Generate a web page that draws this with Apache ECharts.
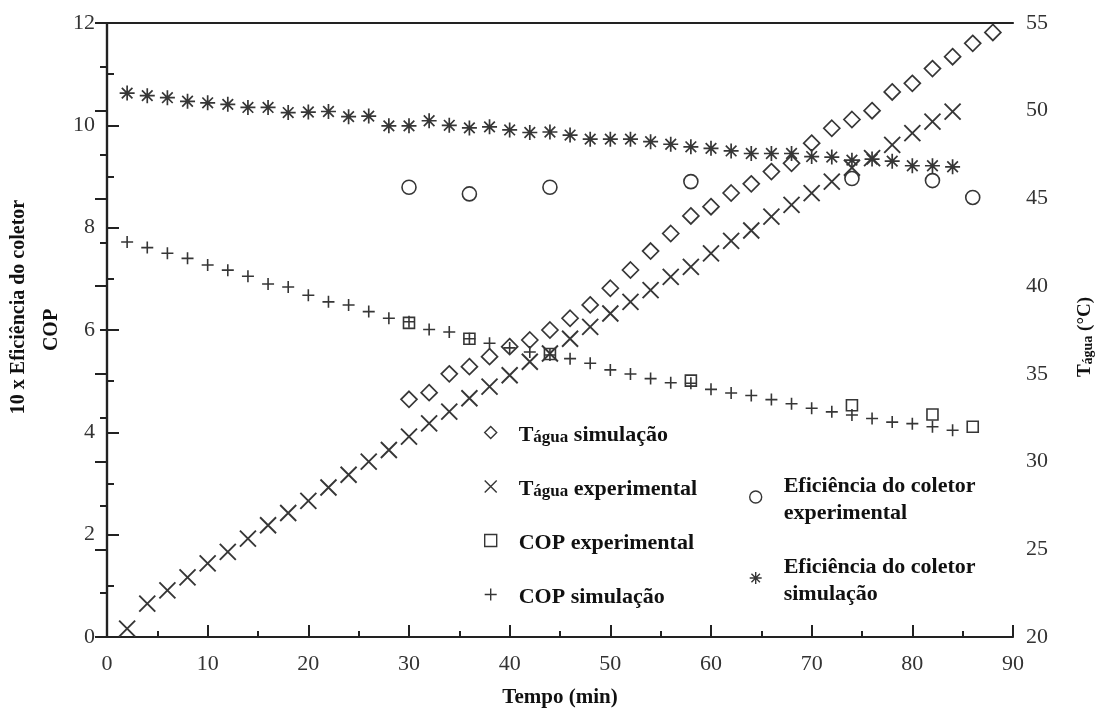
<!DOCTYPE html>
<html>
<head>
<meta charset="utf-8">
<script src="https://cdn.jsdelivr.net/npm/echarts@6/dist/echarts.min.js"></script>
<style>html,body{margin:0;padding:0;background:#fff;}#c{width:1101px;height:708px;}</style>
</head>
<body>
<div id="c"></div>
<script>
// ---- data ----
var timeFull = [2,4,6,8,10,12,14,16,18,20,22,24,26,28,30,32,34,36,38,40,42,44,46,48,50,52,54,56,58,60,62,64,66,68,70,72,74,76,78,80,82,84];
var timeSim = [30,32,34,36,38,40,42,44,46,48,50,52,54,56,58,60,62,64,66,68,70,72,74,76,78,80,82,84,86,88];
var timeExp = [30,36,44,58,74,82,86];

var tAguaSim = [33.55,33.93,35.0,35.41,35.98,36.55,36.93,37.5,38.17,38.93,39.88,40.92,42.0,43.0,44.0,44.53,45.31,45.83,46.53,47.0,48.15,49.0,49.5,50.0,51.07,51.56,52.4,53.08,53.84,54.46];
var tAguaExp = [20.48,21.9,22.66,23.4,24.2,24.85,25.61,26.37,27.07,27.76,28.52,29.25,30.0,30.66,31.42,32.18,32.85,33.61,34.27,34.92,35.69,36.16,37.0,37.68,38.44,39.1,39.77,40.53,41.1,41.87,42.58,43.17,43.96,44.63,45.3,45.96,46.75,47.3,48.05,48.72,49.38,49.95];
var copExp = [6.14,5.83,5.53,5.01,4.53,4.35,4.11];
var copSim = [7.72,7.61,7.50,7.40,7.27,7.17,7.05,6.90,6.84,6.68,6.55,6.49,6.36,6.23,6.16,6.01,5.96,5.83,5.74,5.65,5.57,5.51,5.44,5.35,5.22,5.14,5.05,4.97,4.96,4.84,4.77,4.72,4.64,4.56,4.47,4.40,4.34,4.27,4.20,4.17,4.11,4.04];
var effExp = [8.79,8.66,8.79,8.90,8.96,8.92,8.59];
var effSim = [10.63,10.58,10.54,10.47,10.44,10.41,10.35,10.35,10.25,10.26,10.27,10.17,10.18,9.99,9.99,10.09,10.0,9.95,9.97,9.91,9.86,9.87,9.81,9.73,9.73,9.73,9.68,9.63,9.58,9.55,9.50,9.45,9.45,9.45,9.39,9.38,9.32,9.34,9.30,9.21,9.21,9.19];

var xTicks = [0,10,20,30,40,50,60,70,80,90];
var yLeftTicks = [0,2,4,6,8,10,12];
var yRightTicks = [20,25,30,35,40,45,50,55];

var names = ['Tágua simulação','Tágua experimental','COP experimental','COP simulação','Eficiência do coletor experimental','Eficiência do coletor simulação'];

// ---- styling ----
var SYM = {
  diamond: 'path://M5,0L10,5L5,10L0,5Z',
  cross: 'path://M0,0L10,10M10,0L0,10',
  square: 'path://M0,0L10,0L10,10L0,10Z',
  plus: 'path://M5,0L5,10M0,5L10,5',
  circle: 'circle',
  star: 'path://M5,0L5,10M0,5L10,5M1.46,1.46L8.54,8.54M8.54,1.46L1.46,8.54'
};
var MC = '#363636';
var SERIF = '"Liberation Serif","Times New Roman",serif';

function zip(xs, ys){ var r=[]; for (var i=0;i<xs.length;i++) r.push([xs[i], ys[i]]); return r; }
function sc(name, xs, ys, yi, sym, size, bw){
  return {
    name: name, type: 'scatter', yAxisIndex: yi, data: zip(xs, ys),
    symbol: sym, symbolSize: size, silent: true,
    itemStyle: {color: 'rgba(0,0,0,0)', borderColor: MC, borderWidth: bw, opacity: 1},
    emphasis: {disabled: true}
  };
}
function legItem(name, sym){
  return {name: name, icon: sym, itemStyle: {color: 'rgba(0,0,0,0)', borderColor: MC, borderWidth: 1.4}};
}

var legRich = {
  b: {fontFamily: SERIF, fontWeight: 'bold', fontSize: 22, color: '#111', lineHeight: 27, verticalAlign: 'bottom'},
  s: {fontFamily: SERIF, fontWeight: 'bold', fontSize: 17, color: '#111', lineHeight: 27, verticalAlign: 'bottom'}
};
function legFmt(n){
  if (n.indexOf('Tágua') === 0) return '{b|T}{s|água}{b|' + n.slice(5) + '}';
  if (n.indexOf('Eficiência do coletor ') === 0) return '{b|Eficiência do coletor}\n{b|' + n.slice(22) + '}';
  return '{b|' + n + '}';
}

var axisLine = {show: true, lineStyle: {color: '#222', width: 2.2}};
var tickLbl = {fontFamily: SERIF, fontSize: 22, color: '#333'};

var chart = echarts.init(document.getElementById('c'), null, {renderer: 'canvas'});
chart.setOption({
  backgroundColor: '#fff',
  animation: false,
  grid: {left: 107, right: 88, top: 23, bottom: 71, containLabel: false, outerBoundsMode: 'none'},
  legend: [
    {
      orient: 'vertical', left: 484, top: 419, padding: 0, itemGap: 27,
      itemWidth: 46, itemHeight: 12, selectedMode: false,
      data: [legItem(names[0], SYM.diamond), legItem(names[1], SYM.cross), legItem(names[2], SYM.square), legItem(names[3], SYM.plus)],
      formatter: legFmt, textStyle: {rich: legRich, lineHeight: 27, height: 27}
    },
    {
      orient: 'vertical', left: 749, top: 475, padding: 0, itemGap: 32,
      itemWidth: 46, itemHeight: 12, selectedMode: false,
      data: [legItem(names[4], SYM.circle), legItem(names[5], SYM.star)],
      formatter: legFmt, textStyle: {rich: legRich}
    }
  ],
  xAxis: [
    {
      type: 'value', min: xTicks[0], max: xTicks[xTicks.length-1], interval: 10,
      position: 'bottom',
      name: 'Tempo (min)', nameLocation: 'middle', nameGap: 49,
      nameTextStyle: {fontFamily: SERIF, fontWeight: 'bold', fontSize: 21, color: '#111', lineHeight: 24},
      axisLine: axisLine,
      axisTick: {show: true, inside: true, length: 12, lineStyle: {color: '#222', width: 2}},
      minorTick: {show: true, splitNumber: 2, length: 6, lineStyle: {color: '#222', width: 2}},
      axisLabel: Object.assign({margin: 16}, tickLbl),
      splitLine: {show: false}
    },
    {
      type: 'value', min: xTicks[0], max: xTicks[xTicks.length-1], interval: 10,
      position: 'top', axisLine: axisLine, axisTick: {show: false}, axisLabel: {show: false}, splitLine: {show: false}
    }
  ],
  yAxis: [
    {
      type: 'value', min: yLeftTicks[0], max: yLeftTicks[yLeftTicks.length-1], interval: 2,
      position: 'left',
      name: '{g| }{n|10 x Eficiência do coletor}\n{n|COP}', nameLocation: 'middle', nameRotate: 90, nameGap: 33,
      nameTextStyle: {
        rich: {
          n: {fontFamily: SERIF, fontWeight: 'bold', fontSize: 20, color: '#111', lineHeight: 33},
          g: {width: 46, fontSize: 20, lineHeight: 33}
        }
      },
      axisLine: axisLine,
      axisTick: {show: true, inside: true, length: 12, lineStyle: {color: '#222', width: 2}},
      minorTick: {show: true, splitNumber: 2, length: 7, lineStyle: {color: '#222', width: 2}},
      axisLabel: Object.assign({margin: 12}, tickLbl),
      splitLine: {show: false}
    },
    {
      type: 'value', min: yRightTicks[0], max: yRightTicks[yRightTicks.length-1], interval: 5,
      position: 'right',
      name: '{n|T}{s|água}{n| (°C)}{g| }', nameLocation: 'middle', nameRotate: 90, nameGap: 59,
      nameTextStyle: {
        rich: {
          n: {fontFamily: SERIF, fontWeight: 'bold', fontSize: 19, color: '#111', lineHeight: 23, verticalAlign: 'bottom'},
          s: {fontFamily: SERIF, fontWeight: 'bold', fontSize: 14, color: '#111', lineHeight: 23, verticalAlign: 'bottom'},
          g: {width: 14, fontSize: 14, lineHeight: 23}
        }
      },
      axisLine: axisLine,
      axisTick: {show: true, inside: true, length: 12, lineStyle: {color: '#222', width: 2}},
      minorTick: {show: true, splitNumber: 2, length: 7, lineStyle: {color: '#222', width: 2}},
      axisLabel: Object.assign({margin: 13}, tickLbl),
      splitLine: {show: false}
    }
  ],
  series: [
    sc(names[0], timeSim, tAguaSim, 1, SYM.diamond, 16, 1.7),
    sc(names[1], timeFull, tAguaExp, 1, SYM.cross, 16, 1.9),
    sc(names[2], timeExp, copExp, 0, SYM.square, 11, 1.6),
    sc(names[3], timeFull, copSim, 0, SYM.plus, 12, 1.6),
    sc(names[4], timeExp, effExp, 0, SYM.circle, 14, 1.6),
    sc(names[5], timeFull, effSim, 0, SYM.star, 15, 1.7)
  ]
});
</script>
</body>
</html>
